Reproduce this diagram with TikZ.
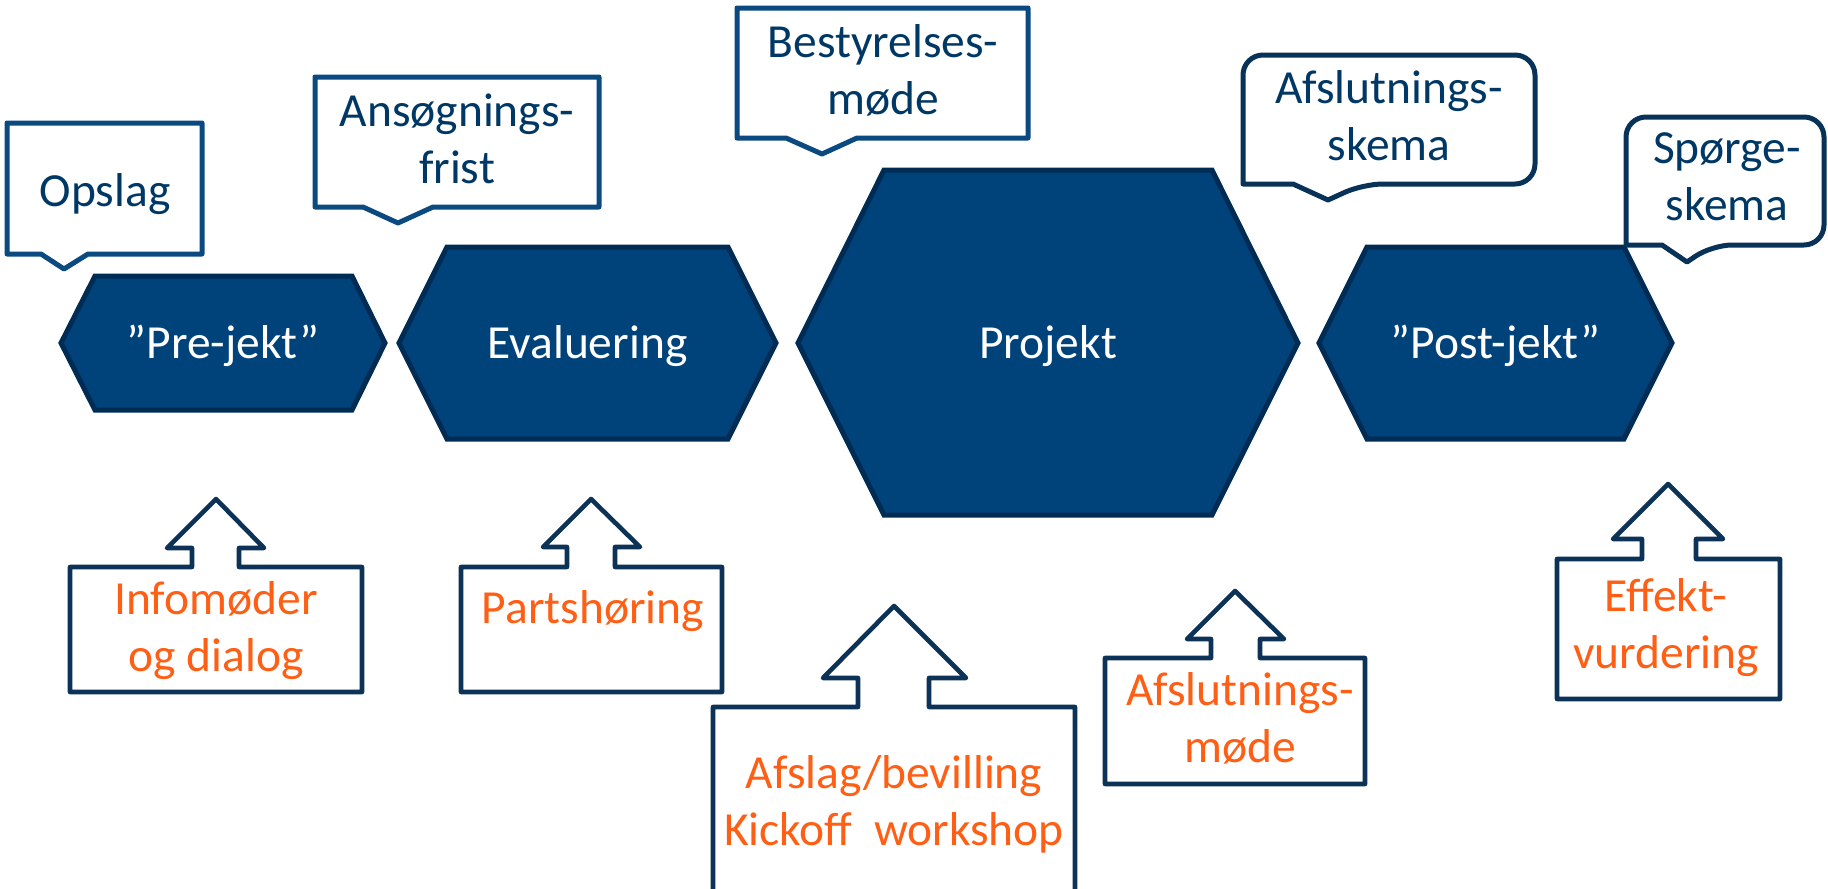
\documentclass[tikz,border=0pt]{standalone}
\usepackage{fontspec}
\setmainfont{Carlito}
\definecolor{hexfill}{RGB}{0,66,122}
\definecolor{hexline}{RGB}{0,44,84}
\definecolor{calline}{RGB}{10,74,128}
\definecolor{rndline}{RGB}{8,50,88}
\definecolor{boxline}{RGB}{12,50,87}
\definecolor{navytext}{RGB}{0,56,101}
\definecolor{orng}{RGB}{255,95,21}
\newcommand{\lblfont}{\fontsize{23.75}{28.5}\selectfont}
\tikzset{
    hexa/.style = {fill=hexfill, draw=hexline, line width=2.5pt},
    callout/.style = {fill=white, draw=calline, line width=2.5pt, line join=round},
    rndcallout/.style = {fill=white, draw=rndline, line width=2.5pt, line join=round},
    upbox/.style = {fill=white, draw=boxline, line width=2.3pt, line join=round},
    lbl/.style = {font=\lblfont, inner sep=0pt, align=center,
        execute at begin node=\strut, execute at end node=\strut}
}
\begin{document}
\begin{tikzpicture}[x=0.5pt, y=-0.5pt, line cap=round]
\useasboundingbox (0,0) rectangle (1828,889);
% phases
\draw [hexa] (61,343) -- (95,276) -- (352,276) -- (385,343) -- (352,410) -- (95,410) -- cycle;
\draw [hexa] (399,343) -- (447,247) -- (728,247) -- (776,343) -- (728,439) -- (447,439) -- cycle;
\draw [hexa] (798,343) -- (884,170) -- (1212,170) -- (1298,343) -- (1212,515) -- (884,515) -- cycle;
\draw [hexa] (1319,343) -- (1367,247) -- (1624,247) -- (1672,343) -- (1624,439) -- (1367,439) -- cycle;
\node [lbl, text=white] (pre) at (223,346.6) {”Pre-jekt”};
\node [lbl, text=white] (eval) at (587.5,346.6) {Evaluering};
\node [lbl, text=white] (proj) at (1048,346.6) {Projekt};
\node [lbl, text=white] (post) at (1495.5,346.6) {”Post-jekt”};
% callouts above
\draw [callout] (7,123) -- (202,123) -- (202,254) -- (88,254) -- (64,269) -- (41,254) -- (7,254) -- cycle;
\draw [callout] (315,77) -- (599,77) -- (599,207) -- (433,207) -- (398,223) -- (363,207) -- (315,207) -- cycle;
\draw [callout] (737,8) -- (1028,8) -- (1028,138) -- (857,138) -- (822,154) -- (786,138) -- (737,138) -- cycle;
\draw [rndcallout] (1328,200) -- (1293,184) -- (1243,184) [rounded corners=10pt] -- (1243,55) -- (1535,55) -- (1535,184) -- (1363,184) [sharp corners] -- cycle;
\draw [rndcallout] (1687,262) -- (1662,245) -- (1626,245) [rounded corners=10pt] -- (1626,117) -- (1824,117) -- (1824,245) -- (1712,245) [sharp corners] -- cycle;
\node [lbl, text=navytext] (opslag) at (105,194.6) {Opslag};
\node [lbl, text=navytext] (frist) at (457,147) {Ansøgnings-\\frist};
\node [lbl, text=navytext] (bestyr) at (883,77.6) {Bestyrelses-\\møde};
\node [lbl, text=navytext] (aflskema) at (1389,123.6) {Afslutnings-\\skema};
\node [lbl, text=navytext] (spoerg) at (1727,185) {Spørge-\\skema};
% boxes with arrows below
\draw [upbox] (70,567) -- (192,567) -- (192,548) -- (167,548) -- (216,499) -- (264,548) -- (239,548) -- (239,567) -- (362,567) -- (362,692) -- (70,692) -- cycle;
\draw [upbox] (461,567) -- (567,567) -- (567,547) -- (543,547) -- (591,499) -- (640,547) -- (615,547) -- (615,567) -- (722,567) -- (722,692) -- (461,692) -- cycle;
\draw [upbox] (713,707) -- (858,707) -- (858,678) -- (823,678) -- (894,606) -- (966,678) -- (929,678) -- (929,707) -- (1075,707) -- (1075,905) -- (713,905) -- cycle;
\draw [upbox] (1105,658) -- (1211,658) -- (1211,639) -- (1187,639) -- (1235,591) -- (1284,639) -- (1260,639) -- (1260,658) -- (1365,658) -- (1365,784) -- (1105,784) -- cycle;
\draw [upbox] (1557,559) -- (1642,559) -- (1642,539) -- (1613,539) -- (1668,484) -- (1723,539) -- (1696,539) -- (1696,559) -- (1780,559) -- (1780,699) -- (1557,699) -- cycle;
\node [lbl, text=orng] (info) at (216,634.6) {Infomøder\\og dialog};
\node [lbl, text=orng] (parts) at (593,611.6) {Partshøring};
\node [lbl, text=orng] (afslag) at (894,809) {Afslag/bevilling\\Kickoff\ \ workshop};
\node [lbl, text=orng] (aflmoede) at (1240,725.6) {Afslutnings-\\møde};
\node [lbl, text=orng] (effekt) at (1666,632) {Effekt-\\vurdering};
\end{tikzpicture}
\end{document}
